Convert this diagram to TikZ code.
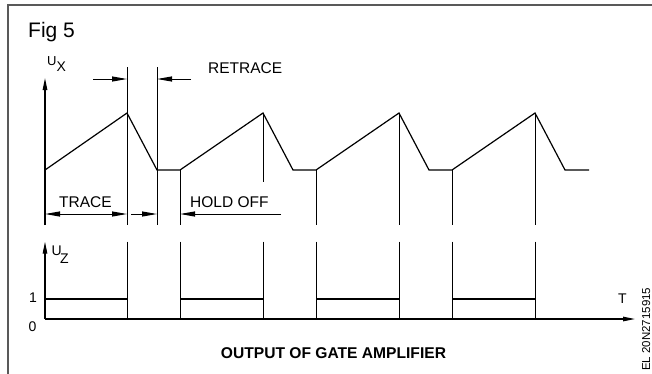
\documentclass[tikz,border=0pt]{standalone}
\usepackage{fontspec}
\setmainfont{Liberation Sans}
\usetikzlibrary{arrows.meta}
\begin{document}
\begin{tikzpicture}[x=1pt,y=-1pt,
  wave/.style={line width=1.2pt, line join=miter},
  guide/.style={line width=1pt},
  arr/.style={line width=1pt,-{Triangle[length=15pt,width=5pt]}},
  darr/.style={line width=1pt,{Triangle[length=15pt,width=5pt]}-{Triangle[length=15pt,width=5pt]}},
  axarr/.style={line width=1.2pt,-{Triangle[length=12pt,width=4.5pt]}},
  lbl/.style={font=\fontsize{15.5}{16}\selectfont, inner sep=0pt},
  sm/.style={font=\fontsize{14}{15}\selectfont, inner sep=0pt},
]
\useasboundingbox (0,0) rectangle (652,373);
% frame
\draw[line width=2pt, gray!70!black] (8,374) -- (8,4.5) -- (653,4.5);

% labels
\node[font=\fontsize{21}{22}\selectfont, inner sep=0pt, anchor=base west] (fig) at (28,37) {Fig 5};
\node[font=\fontsize{13}{13}\selectfont, inner sep=0pt, anchor=base west] (ux) at (47,65) {U};
\node[sm, anchor=base west] (uxs) at (56.5,71) {X};
\node[font=\fontsize{14}{14}\selectfont, inner sep=0pt, anchor=base west] (uz) at (51.5,255) {U};
\node[sm, anchor=base west] (uzs) at (60,263.5) {Z};
\node[lbl, anchor=base west] (retrace) at (208,73) {RETRACE};
\node[lbl, anchor=base west] (trace) at (59,207.5) {TRACE};
\node[lbl, anchor=base west] (hold) at (190,207.5) {HOLD OFF};
\node[sm, anchor=base] (one) at (33,302) {1};
\node[sm, anchor=base] (zero) at (32.5,331) {0};
\node[sm, anchor=base] (t) at (622.5,303.5) {T};
\node[font=\bfseries\fontsize{15.6}{16}\selectfont, inner sep=0pt, anchor=base] (title) at (333.5,358.5) {OUTPUT OF GATE AMPLIFIER};
\node[font=\fontsize{11.5}{12}\selectfont, inner sep=0pt, rotate=90, anchor=base west] (code) at (650,371) {EL 20N2715915};

% coordinates
\coordinate (uxb) at (45,225);
\coordinate (uxt) at (45,78);
\coordinate (uzb) at (45,319);
\coordinate (uzt) at (45,241.7);
\coordinate (tend) at (635,319);

% axes
\draw[axarr] (uxb) -- (uxt);
\draw[axarr] (uzb) -- (uzt);
\draw[axarr] (uzb) -- (tend);

% sawtooth
\draw[wave] (45,170) -- (127,113) -- (157,170) -- (180,170) -- (263,113) -- (293,170)
  -- (316,170) -- (399,113) -- (429,170) -- (452,170) -- (535,113) -- (565,170) -- (589,170);

% guide lines
\draw[guide] (127,67) -- (127,225);
\draw[guide] (157,67) -- (157,225);
\draw[guide] (180,170) -- (180,225);
\draw[guide] (263,113) -- (263,182);
\draw[guide] (316,170) -- (316,225);
\draw[guide] (399,113) -- (399,225);
\draw[guide] (452,170) -- (452,225);
\draw[guide] (535,113) -- (535,225);

% pulse edges
\foreach \x in {127,180,263,316,399,452,535}
  \draw[guide] (\x,241.7) -- (\x,319);
% level 1
\foreach \a/\b in {45/127,180/263,316/399,452/535}
  \draw[wave] (\a,299) -- (\b,299);

% dimension arrows
\draw[arr] (93,79) -- (127,79);
\draw[arr] (191,79) -- (157,79);
\draw[darr] (45,214) -- (127,214);
\draw[arr] (131,214) -- (157,214);
\draw[arr] (281,214) -- (180,214);
\end{tikzpicture}
\end{document}
